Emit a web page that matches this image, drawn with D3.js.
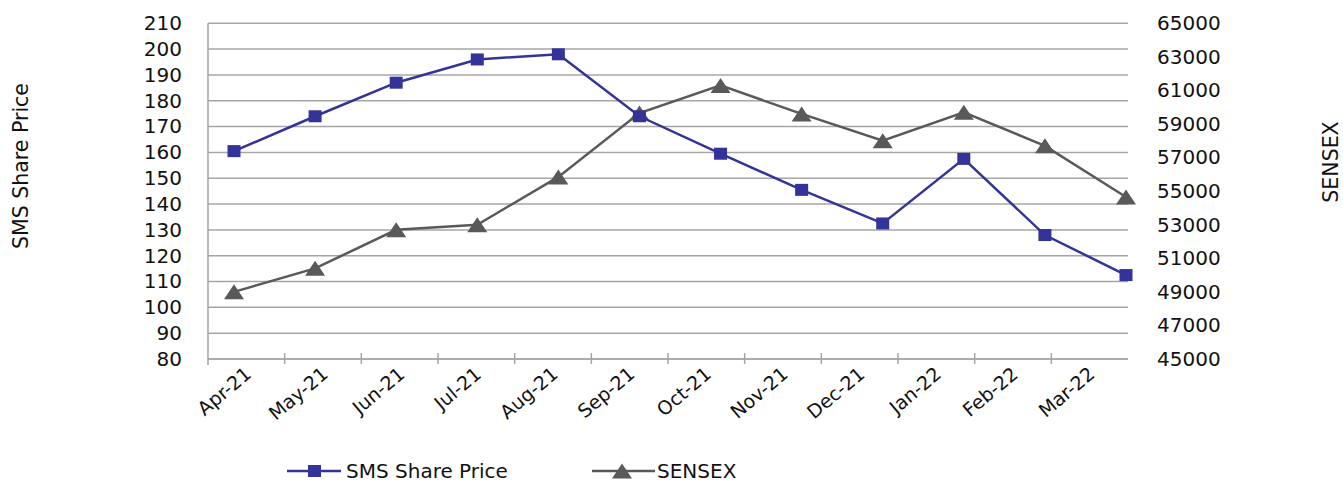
<!DOCTYPE html>
<html>
<head>
<meta charset="utf-8">
<script src="https://cdn.jsdelivr.net/npm/d3@7"></script>
<style>
  html, body { margin: 0; padding: 0; background: #fff; }
  svg { display: block; font-family: "DejaVu Sans", sans-serif; }
</style>
</head>
<body>
<svg id="chart" width="1343" height="482"></svg>
<script>
const categories = ["Apr-21","May-21","Jun-21","Jul-21","Aug-21","Sep-21","Oct-21","Nov-21","Dec-21","Jan-22","Feb-22","Mar-22"];
const smsPrice = [160.5, 174, 187, 196, 198, 174, 159.5, 145.5, 132.5, 157.5, 128, 112.5];
const sensex = [49000, 50400, 52700, 53000, 55850, 59650, 61300, 59600, 58000, 59700, 57700, 54650];
const leftTicks = [80, 90, 100, 110, 120, 130, 140, 150, 160, 170, 180, 190, 200, 210];
const rightTicks = [45000, 47000, 49000, 51000, 53000, 55000, 57000, 59000, 61000, 63000, 65000];
const seriesNames = ["SMS Share Price", "SENSEX"];
const leftTitle = "SMS Share Price";
const rightTitle = "SENSEX";

const blue = "#333399", gray = "#595959", gridColor = "#a6a6a6";
const plot = { left: 208, right: 1128, top: 23.3, bottom: 359 };

const svg = d3.select("#chart");

const yL = d3.scaleLinear().domain([80, 210]).range([plot.bottom, plot.top]);
const yR = d3.scaleLinear().domain([45000, 65000]).range([plot.bottom, plot.top]);
const xBand = d3.scaleBand().domain(categories).range([plot.left, plot.right]);
const xPt = d3.scalePoint().domain(categories).range([plot.left + 26, plot.right - 2]);

// gridlines
svg.append("g").selectAll("line").data(leftTicks).join("line")
  .attr("x1", plot.left).attr("x2", plot.right)
  .attr("y1", d => yL(d)).attr("y2", d => yL(d))
  .attr("stroke", gridColor).attr("stroke-width", 1.5);

// left axis line
svg.append("line").attr("x1", plot.left).attr("x2", plot.left)
  .attr("y1", plot.top).attr("y2", plot.bottom + 6)
  .attr("stroke", gridColor).attr("stroke-width", 1.5);

// x axis line and ticks
svg.append("line").attr("x1", plot.left).attr("x2", plot.right)
  .attr("y1", plot.bottom).attr("y2", plot.bottom)
  .attr("stroke", gridColor).attr("stroke-width", 1.5);
const boundaries = categories.map(c => xBand(c)).slice(1);
svg.append("g").selectAll("line").data(boundaries).join("line")
  .attr("x1", d => d).attr("x2", d => d)
  .attr("y1", plot.bottom - 6).attr("y2", plot.bottom + 5)
  .attr("stroke", gridColor).attr("stroke-width", 1.5);

// x labels
svg.append("g").selectAll("text").data(categories).join("text")
  .attr("transform", d => `translate(${xBand(d) + xBand.bandwidth() / 2 + 2},${plot.bottom + 12}) rotate(-40)`)
  .attr("text-anchor", "end")
  .attr("dy", "0.35em")
  .attr("font-size", 19)
  .attr("fill", "#111")
  .text(d => d);

// left ticks
const gL = svg.append("g").attr("transform", `translate(${plot.left},0)`)
  .call(d3.axisLeft(yL).tickValues(leftTicks).tickSize(0).tickPadding(26).tickFormat(d3.format("d")));
gL.select(".domain").remove();
gL.selectAll("text").attr("font-size", 20).attr("font-family", "DejaVu Sans").attr("fill", "#111");

// right ticks
const gR = svg.append("g").attr("transform", `translate(${plot.right},0)`)
  .call(d3.axisRight(yR).tickValues(rightTicks).tickSize(0).tickPadding(29).tickFormat(d3.format("d")));
gR.select(".domain").remove();
gR.selectAll("text").attr("font-size", 20).attr("font-family", "DejaVu Sans").attr("fill", "#111");

// axis titles
svg.append("text").attr("transform", "translate(28,166) rotate(-90)")
  .attr("text-anchor", "middle").attr("font-size", 20.5).attr("fill", "#111").text(leftTitle);
svg.append("text").attr("transform", "translate(1338,162) rotate(-90)")
  .attr("text-anchor", "middle").attr("font-size", 20.5).attr("fill", "#111").text(rightTitle);

// lines
const lineL = d3.line().x((d, i) => xPt(categories[i])).y(d => yL(d));
const lineR = d3.line().x((d, i) => xPt(categories[i])).y(d => yR(d));

svg.append("path").datum(sensex).attr("d", lineR)
  .attr("fill", "none").attr("stroke", gray).attr("stroke-width", 2.5);
svg.append("g").selectAll("path").data(sensex).join("path")
  .attr("d", "M0,-7.5L10,7.5L-10,7.5Z")
  .attr("transform", (d, i) => `translate(${xPt(categories[i])},${yR(d)})`)
  .attr("fill", gray);

svg.append("path").datum(smsPrice).attr("d", lineL)
  .attr("fill", "none").attr("stroke", blue).attr("stroke-width", 2.5);
svg.append("g").selectAll("rect").data(smsPrice).join("rect")
  .attr("x", (d, i) => xPt(categories[i]) - 6.5)
  .attr("y", d => yL(d) - 6)
  .attr("width", 13).attr("height", 12)
  .attr("fill", blue);

// legend
const leg = svg.append("g");
leg.append("line").attr("x1", 287).attr("x2", 341).attr("y1", 471).attr("y2", 471)
  .attr("stroke", blue).attr("stroke-width", 2.5);
leg.append("rect").attr("x", 308).attr("y", 465).attr("width", 13).attr("height", 12).attr("fill", blue);
leg.append("text").attr("x", 346).attr("y", 471).attr("dy", "0.35em")
  .attr("font-size", 20).attr("fill", "#111").text(seriesNames[0]);

leg.append("line").attr("x1", 592).attr("x2", 655).attr("y1", 471).attr("y2", 471)
  .attr("stroke", gray).attr("stroke-width", 2.5);
leg.append("path").attr("d", "M0,-7.5L10,7.5L-10,7.5Z")
  .attr("transform", "translate(622,471)").attr("fill", gray);
leg.append("text").attr("x", 657).attr("y", 471).attr("dy", "0.35em")
  .attr("font-size", 20).attr("fill", "#111").text(seriesNames[1]);
</script>
</body>
</html>
